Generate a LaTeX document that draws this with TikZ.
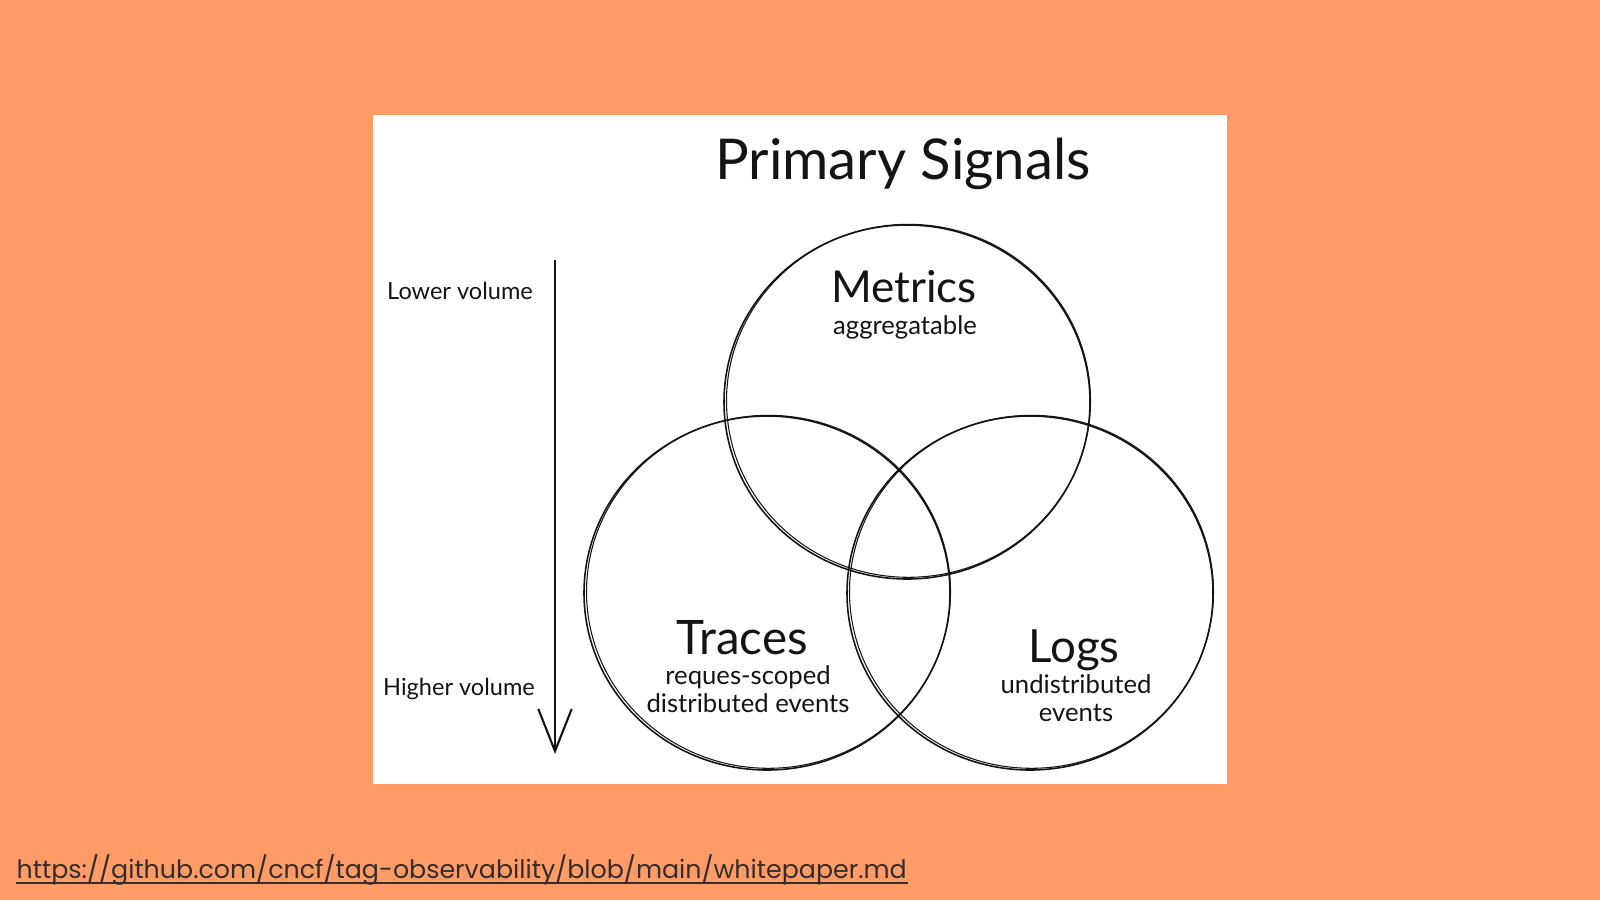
\documentclass[tikz,border=0pt]{standalone}
\usepackage{fontspec}
\setmainfont{Lato}
\newfontfamily\urlfont{Poppins}
\usetikzlibrary{arrows.meta,shapes.geometric}
\definecolor{bgorange}{RGB}{255,155,102}
\definecolor{urlgray}{RGB}{51,46,44}
\definecolor{ink}{RGB}{20,20,20}
\tikzset{
  sketch/.style={draw=ink,line width=0.45pt},
  bubble/.style={ellipse,minimum width=366,minimum height=354,inner sep=0,draw=none},
  big/.style={font=\fontsize{12.5}{14}\selectfont,text=ink,inner sep=0},
  small/.style={font=\fontsize{7.3}{7.8}\selectfont,text=ink,inner sep=0,align=center},
  side/.style={font=\fontsize{6.7}{8}\selectfont,text=ink,inner sep=0},
}
\begin{document}
\begin{tikzpicture}[x=0.01cm,y=-0.01cm]
\useasboundingbox (0,0) rectangle (1600,900);
\fill[bgorange] (0,0) rectangle (1600,900);
\fill[white] (373,115) rectangle (1227,784);
% bubbles
\node[bubble] (metrics) at (907,402) {};
\node[bubble] (traces) at (767,593) {};
\node[bubble] (logs) at (1030,593) {};
\foreach \c in {metrics,traces,logs}{
  \draw[sketch] (\c.center) ellipse [x radius=183,y radius=177];
  \draw[sketch,line width=0.3pt] ([shift={(1.5,-1.2)}]\c.center) ellipse [x radius=182,y radius=176.5];
}
% title and labels
\node[font=\fontsize{16}{19}\selectfont,text=ink,inner sep=0] (title) at (903,164) {Primary Signals};
\node[big] (mt) at (904,287) {Metrics};
\node[small] (ms) at (905,327) {aggregatable};
\node[big,font=\fontsize{13.5}{15}\selectfont] (tt) at (742,638) {Traces};
\node[small] (ts) at (748,689) {reques-scoped\\distributed events};
\node[big,font=\fontsize{13}{15}\selectfont] (lt) at (1074,650) {Logs};
\node[small] (ls) at (1076,698) {undistributed\\events};
\node[side] (lv) at (460,291) {Lower volume};
\node[side] (hv) at (459,689) {Higher volume};
% arrow
\coordinate (atop) at (555,260);
\coordinate (abot) at (555,754);
\draw[sketch,line width=0.6pt,-{Straight Barb[length=12pt,width=9.5pt,line width=0.6pt]}] (atop) -- (abot);
% url
\node[anchor=base west,inner sep=0,text=urlgray,font=\urlfont\fontsize{7.2}{9}\selectfont] (url) at (16,878) {https://github.com/cncf/tag-observability/blob/main/whitepaper.md};
\coordinate (ul) at (16,883);
\draw[urlgray,line width=0.5pt] (ul) -- (ul -| url.east);
\end{tikzpicture}
\end{document}
